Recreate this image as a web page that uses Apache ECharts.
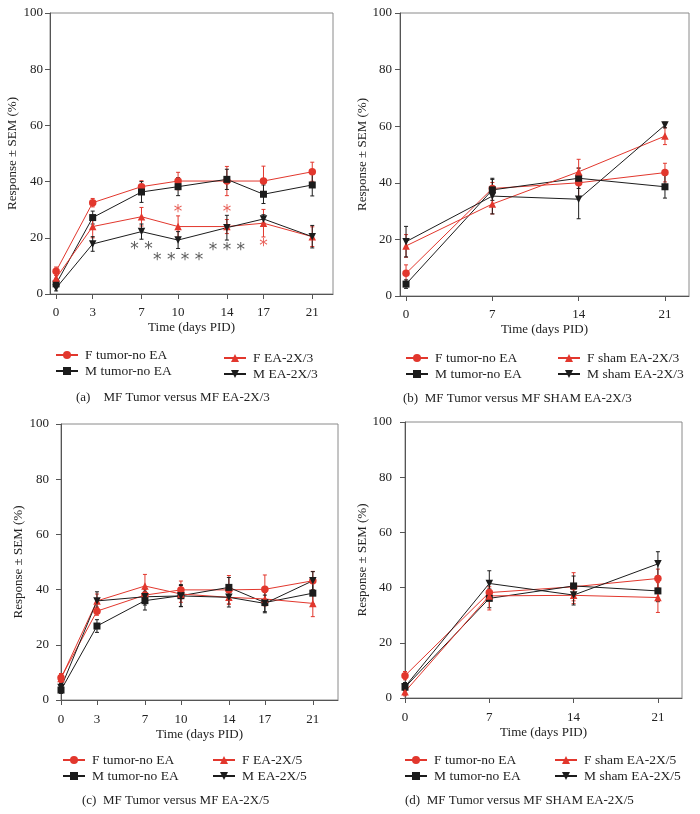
<!DOCTYPE html>
<html>
<head>
<meta charset="utf-8">
<script src="https://cdn.jsdelivr.net/npm/echarts@6/dist/echarts.min.js"></script>
<style>html,body{margin:0;padding:0;background:#fff}#c{width:700px;height:814px}</style>
</head>
<body>
<div id="c"></div>
<script>
// ---------- data ----------
const DAYS_A = [0, 3, 7, 10, 14, 17, 21];
const DAYS_B = [0, 7, 14, 21];
const Y_TICKS = [0, 20, 40, 60, 80, 100];

// Panel (a)
const A_F_TUMOR     = [8.1, 32.5, 38.2, 40.2, 40.2, 40.2, 43.5];
const A_F_TUMOR_ERR = [1.5, 1.5, 2.1, 3.1, 5.2, 5.3, 3.4];
const A_M_TUMOR     = [3.6, 27.2, 36.3, 38.2, 40.8, 35.5, 38.8];
const A_M_TUMOR_ERR = [1.2, 2.3, 3.7, 3.2, 3.6, 3.3, 3.9];
const A_F_EA        = [5.7, 24.0, 27.5, 24.0, 24.0, 25.2, 20.4];
const A_F_EA_ERR    = [1.5, 4.0, 3.3, 3.8, 2.5, 4.9, 3.5];
const A_M_EA        = [2.1, 17.8, 22.2, 19.2, 23.6, 26.7, 20.4];
const A_M_EA_ERR    = [1.0, 2.6, 2.7, 3.0, 4.4, 1.5, 4.0];
const A_STARS_BLACK = [[7, 16.7, '* *'], [10, 12.9, '* * * *'], [14, 16.4, '* * *']];
const A_STARS_RED   = [[10, 29.9, '*'], [14, 29.9, '*'], [17, 17.8, '*']];

// Panel (b)
const B_F_TUMOR     = [8.0, 38.0, 40.0, 43.6];
const B_F_TUMOR_ERR = [3.0, 2.1, 5.2, 3.3];
const B_M_TUMOR     = [4.2, 37.5, 41.6, 38.6];
const B_M_TUMOR_ERR = [1.5, 3.7, 3.6, 4.0];
const B_F_SHAM      = [17.7, 32.5, 43.9, 56.5];
const B_F_SHAM_ERR  = [4.0, 3.5, 4.4, 3.0];
const B_M_SHAM      = [19.2, 35.3, 34.2, 60.4];
const B_M_SHAM_ERR  = [5.4, 6.3, 6.9, 1.0];

// Panel (c)
const C_F_TUMOR     = [8.1, 32.2, 38.0, 39.9, 39.9, 40.1, 43.2];
const C_F_TUMOR_ERR = [1.5, 1.5, 2.1, 3.2, 5.2, 5.2, 3.4];
const C_M_TUMOR     = [3.6, 26.8, 36.0, 37.8, 40.8, 35.3, 38.7];
const C_M_TUMOR_ERR = [1.2, 2.3, 3.4, 4.0, 3.6, 3.7, 3.9];
const C_F_EA        = [7.8, 35.9, 41.3, 38.4, 37.2, 36.6, 35.0];
const C_F_EA_ERR    = [1.5, 2.5, 4.2, 3.0, 2.4, 2.5, 4.8];
const C_M_EA        = [4.5, 35.9, 37.4, 37.7, 37.2, 35.0, 43.2];
const C_M_EA_ERR    = [1.5, 3.3, 3.0, 3.8, 3.5, 3.0, 3.3];

// Panel (d)
const D_F_TUMOR     = [8.1, 38.2, 40.3, 43.3];
const D_F_TUMOR_ERR = [1.5, 2.1, 5.1, 3.4];
const D_M_TUMOR     = [3.9, 36.1, 40.6, 38.8];
const D_M_TUMOR_ERR = [1.2, 3.4, 3.6, 3.9];
const D_F_SHAM      = [2.3, 37.0, 37.2, 36.4];
const D_F_SHAM_ERR  = [1.5, 5.1, 3.0, 5.4];
const D_M_SHAM      = [4.1, 41.5, 37.3, 48.6];
const D_M_SHAM_ERR  = [1.5, 4.6, 3.6, 4.4];

const CAPTIONS = [
  '(a)    MF Tumor versus MF EA-2X/3',
  '(b)  MF Tumor versus MF SHAM EA-2X/3',
  '(c)  MF Tumor versus MF EA-2X/5',
  '(d)  MF Tumor versus MF SHAM EA-2X/5'
];
const X_NAME = 'Time (days PID)';
const Y_NAME = 'Response \u00b1 SEM (%)';

// ---------- styling ----------
const FONT = 'Liberation Serif';
const RED = '#e2372d';
const BLACK = '#1c1c1c';
const AXIS = '#555';

const panels = [
  { grid: {left: 50, top: 13, width: 283, height: 281}, xmin: -0.5, xmax: 22.7, days: DAYS_A,
    ylm: 7, yng: 31, xlm: 12, xng: 27,
    series: [
      ['F tumor-no EA', A_F_TUMOR, A_F_TUMOR_ERR, RED, 'circle', 0],
      ['M tumor-no EA', A_M_TUMOR, A_M_TUMOR_ERR, BLACK, 'rect', 0],
      ['F EA-2X/3', A_F_EA, A_F_EA_ERR, RED, 'triangle', 0],
      ['M EA-2X/3', A_M_EA, A_M_EA_ERR, BLACK, 'triangle', 180]
    ],
    legends: [{left: 55, top: 348}, {left: 223, top: 351}],
    caption: {left: 76, top: 391} },
  { grid: {left: 400, top: 13, width: 289, height: 283}, xmin: -0.49, xmax: 22.95, days: DAYS_B,
    ylm: 8, yng: 31, xlm: 12, xng: 27,
    series: [
      ['F tumor-no EA', B_F_TUMOR, B_F_TUMOR_ERR, RED, 'circle', 0],
      ['M tumor-no EA', B_M_TUMOR, B_M_TUMOR_ERR, BLACK, 'rect', 0],
      ['F sham EA-2X/3', B_F_SHAM, B_F_SHAM_ERR, RED, 'triangle', 0],
      ['M sham EA-2X/3', B_M_SHAM, B_M_SHAM_ERR, BLACK, 'triangle', 180]
    ],
    legends: [{left: 405, top: 351}, {left: 557, top: 351}],
    caption: {left: 403, top: 392} },
  { grid: {left: 61, top: 424, width: 277, height: 276}, xmin: 0, xmax: 23.1, days: DAYS_A,
    ylm: 12, yng: 36, xlm: 13, xng: 28,
    series: [
      ['F tumor-no EA', C_F_TUMOR, C_F_TUMOR_ERR, RED, 'circle', 0],
      ['M tumor-no EA', C_M_TUMOR, C_M_TUMOR_ERR, BLACK, 'rect', 0],
      ['F EA-2X/5', C_F_EA, C_F_EA_ERR, RED, 'triangle', 0],
      ['M EA-2X/5', C_M_EA, C_M_EA_ERR, BLACK, 'triangle', 180]
    ],
    legends: [{left: 62, top: 753}, {left: 212, top: 753}],
    caption: {left: 82, top: 794} },
  { grid: {left: 405, top: 422, width: 277, height: 276}, xmin: 0, xmax: 23.0, days: DAYS_B,
    ylm: 13, yng: 36, xlm: 13, xng: 28,
    series: [
      ['F tumor-no EA', D_F_TUMOR, D_F_TUMOR_ERR, RED, 'circle', 0],
      ['M tumor-no EA', D_M_TUMOR, D_M_TUMOR_ERR, BLACK, 'rect', 0],
      ['F sham EA-2X/5', D_F_SHAM, D_F_SHAM_ERR, RED, 'triangle', 0],
      ['M sham EA-2X/5', D_M_SHAM, D_M_SHAM_ERR, BLACK, 'triangle', 180]
    ],
    legends: [{left: 404, top: 753}, {left: 554, top: 753}],
    caption: {left: 405, top: 794} }
];

const grids = [], xAxes = [], yAxes = [], series = [], legends = [], titles = [];
const txt = {fontFamily: FONT, fontSize: 13, color: '#222'};
const legendTxt = {fontFamily: FONT, fontSize: 13.5, color: '#222'};

function errSeries(idx, days, vals, errs, color) {
  return {
    type: 'custom', xAxisIndex: idx, yAxisIndex: idx, silent: true, z: 2,
    encode: {x: 0, y: [1, 2]},
    data: days.map((d, i) => [d, vals[i] - errs[i], vals[i] + errs[i]]),
    renderItem: (params, api) => {
      const x = api.value(0);
      const lo = api.coord([x, api.value(1)]);
      const hi = api.coord([x, api.value(2)]);
      const w = 2;
      const st = {stroke: color, lineWidth: 1};
      return {type: 'group', children: [
        {type: 'line', shape: {x1: lo[0], y1: lo[1], x2: hi[0], y2: hi[1]}, style: st},
        {type: 'line', shape: {x1: lo[0] - w, y1: lo[1], x2: lo[0] + w, y2: lo[1]}, style: st},
        {type: 'line', shape: {x1: hi[0] - w, y1: hi[1], x2: hi[0] + w, y2: hi[1]}, style: st}
      ]};
    }
  };
}

panels.forEach((p, i) => {
  grids.push(Object.assign({show: true, borderColor: '#8a8a8a', borderWidth: 1, containLabel: false}, p.grid));
  xAxes.push({
    type: 'value', gridIndex: i, min: p.xmin, max: p.xmax,
    name: X_NAME, nameLocation: 'middle', nameGap: p.xng, nameTextStyle: txt,
    axisLine: {show: true, onZero: false, lineStyle: {color: AXIS, width: 1}},
    axisTick: {show: true, inside: false, length: 5, lineStyle: {color: AXIS}, customValues: p.days},
    axisLabel: {margin: p.xlm, customValues: p.days, fontFamily: FONT, fontSize: 13, color: '#222'},
    splitLine: {show: false}
  });
  yAxes.push({
    type: 'value', gridIndex: i, min: 0, max: 100, interval: 20,
    name: Y_NAME, nameLocation: 'middle', nameGap: p.yng, nameRotate: 90, nameTextStyle: txt,
    axisLine: {show: true, onZero: false, lineStyle: {color: AXIS, width: 1}},
    axisTick: {show: true, length: 5, lineStyle: {color: AXIS}},
    axisLabel: {margin: p.ylm, fontFamily: FONT, fontSize: 13, color: '#222', customValues: Y_TICKS},
    splitLine: {show: false}
  });
  p.series.forEach(([name, vals, errs, color, sym, rot]) => {
    series.push(errSeries(i, p.days, vals, errs, color));
    series.push({
      type: 'line', name, xAxisIndex: i, yAxisIndex: i, z: 3,
      data: p.days.map((d, k) => [d, vals[k]]),
      symbol: sym, symbolRotate: rot, symbolSize: sym === 'rect' ? 7 : 7.5,
      showAllSymbol: true,
      itemStyle: {color}, lineStyle: {color, width: 1},
      animation: false
    });
  });
  const names = p.series.map(s => s[0]);
  const lg = {orient: 'vertical', padding: 0, itemGap: 2, itemWidth: 22, itemHeight: 10,
    textStyle: Object.assign({lineHeight: 14, padding: [0, 0, 0, 2]}, legendTxt)};
  legends.push(Object.assign({left: p.legends[0].left, top: p.legends[0].top, data: names.slice(0, 2)}, lg));
  legends.push(Object.assign({left: p.legends[1].left, top: p.legends[1].top, data: names.slice(2, 4)}, lg));
  titles.push({text: CAPTIONS[i], left: p.caption.left, top: p.caption.top, padding: 0,
    textStyle: {fontFamily: FONT, fontSize: 13, fontWeight: 'normal', color: '#222'}});
});

// significance asterisks on panel (a)
[[A_STARS_BLACK, '#333'], [A_STARS_RED, RED]].forEach(([arr, color]) => {
  series.push({
    type: 'scatter', xAxisIndex: 0, yAxisIndex: 0, symbolSize: 0, silent: true, z: 4,
    data: arr.map(a => ({value: [a[0], a[1]], label: {formatter: a[2]}})),
    label: {show: true, position: 'inside', fontFamily: 'DejaVu Sans', fontSize: 17, color, verticalAlign: 'middle', offset: [0, 3]}
  });
});

const chart = echarts.init(document.getElementById('c'), null, {renderer: 'canvas'});
chart.setOption({
  animation: false,
  backgroundColor: '#fff',
  title: titles,
  legend: legends,
  grid: grids,
  xAxis: xAxes,
  yAxis: yAxes,
  series
});
</script>
</body>
</html>
